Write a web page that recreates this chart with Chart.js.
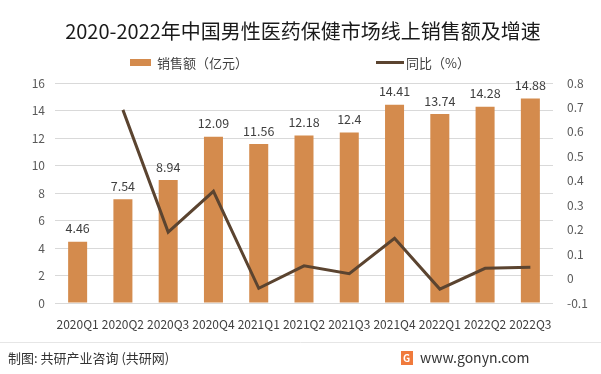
<!DOCTYPE html>
<html>
<head>
<meta charset="utf-8">
<script src="https://cdn.jsdelivr.net/npm/chart.js@4"></script>
<style>
  html, body { margin: 0; padding: 0; background: #fff; }
  canvas { display: block; }
</style>
</head>
<body>
<canvas id="myChart" width="601" height="374"></canvas>
<script>
const quarters = ['2020Q1', '2020Q2', '2020Q3', '2020Q4', '2021Q1', '2021Q2', '2021Q3', '2021Q4', '2022Q1', '2022Q2', '2022Q3'];
const sales = [4.46, 7.54, 8.94, 12.09, 11.56, 12.18, 12.4, 14.41, 13.74, 14.28, 14.88];
const growth = [null, 0.69, 0.19, 0.357, -0.04, 0.052, 0.02, 0.165, -0.043, 0.042, 0.046];

const font = '"Noto Sans CJK SC", "Noto Sans", sans-serif';
const barColor = '#D48B4D';
const lineColor = '#5B4430';

// title, legend, value labels and footer
const extras = {
  id: 'extras',
  beforeDraw(chart) {
    const c = chart.ctx;
    c.save();
    c.fillStyle = '#fff';
    c.fillRect(0, 0, chart.width, chart.height);
    c.restore();
  },
  afterDatasetsDraw(chart) {
    const c = chart.ctx;
    c.save();
    c.fillStyle = '#1a1a1a';
    c.font = '20px ' + font;
    c.textAlign = 'center';
    c.textBaseline = 'middle';
    c.fillText('2020-2022年中国男性医药保健市场线上销售额及增速', 303, 31);

    c.font = '13px ' + font;
    c.textAlign = 'left';
    c.fillStyle = barColor;
    c.fillRect(130, 59, 21, 7);
    c.fillStyle = '#404040';
    c.fillText('销售额（亿元）', 157, 63);
    c.strokeStyle = lineColor;
    c.lineWidth = 3;
    c.beginPath();
    c.moveTo(376, 62.5);
    c.lineTo(404, 62.5);
    c.stroke();
    c.fillText('同比（%）', 406, 63);

    // value labels over bars
    const meta = chart.getDatasetMeta(1);
    c.font = '12.5px ' + font;
    c.textAlign = 'center';
    c.textBaseline = 'bottom';
    c.fillStyle = '#404040';
    meta.data.forEach((bar, i) => {
      c.fillText(String(sales[i]), bar.x, bar.y - 7);
    });

    // footer
    c.strokeStyle = '#e6e6e6';
    c.lineWidth = 1;
    c.beginPath();
    c.moveTo(0, 342.5);
    c.lineTo(601, 342.5);
    c.stroke();
    c.textAlign = 'left';
    c.textBaseline = 'middle';
    c.fillStyle = '#333';
    c.font = '13px ' + font;
    c.fillText('制图: 共研产业咨询 (共研网)', 8, 358);
    c.fillStyle = '#F07A3C';
    c.fillRect(401, 351, 12, 14);
    c.fillStyle = '#fff';
    c.font = 'bold 10px ' + font;
    c.fillText('G', 403, 358);
    c.fillStyle = '#333';
    c.font = '14px ' + font;
    c.fillText('www.gonyn.com', 420, 358);
    c.restore();
  }
};

new Chart(document.getElementById('myChart'), {
  data: {
    labels: quarters,
    datasets: [
      {
        type: 'line',
        label: '同比（%）',
        data: growth,
        yAxisID: 'y1',
        borderColor: lineColor,
        borderWidth: 3,
        pointRadius: 0,
        tension: 0,
        order: 0
      },
      {
        type: 'bar',
        label: '销售额（亿元）',
        data: sales,
        yAxisID: 'y',
        backgroundColor: barColor,
        barPercentage: 0.84,
        categoryPercentage: 0.5,
        order: 1
      }
    ]
  },
  options: {
    responsive: false,
    animation: false,
    devicePixelRatio: 1,
    layout: { padding: { top: 83, bottom: 41, left: 0, right: 0 } },
    plugins: {
      legend: { display: false },
      tooltip: { enabled: false }
    },
    scales: {
      x: {
        grid: { display: false },
        border: { display: false },
        ticks: { color: '#404040', font: { size: 12, family: font }, maxRotation: 0, autoSkip: false, padding: 6 },
        afterFit(s) { s.height = 30; }
      },
      y: {
        position: 'left',
        min: 0,
        max: 16,
        ticks: { stepSize: 2, color: '#595959', font: { size: 12, family: font }, padding: 10 },
        grid: { color: '#d9d9d9', drawTicks: false },
        border: { display: false },
        afterFit(s) { s.width = 55; }
      },
      y1: {
        position: 'right',
        min: -0.1,
        max: 0.8,
        ticks: {
          stepSize: 0.1,
          color: '#595959',
          font: { size: 12, family: font },
          padding: 14,
          callback: v => String(Math.round(v * 10) / 10)
        },
        grid: { display: false, drawTicks: false },
        border: { display: false },
        afterFit(s) { s.width = 48; }
      }
    }
  },
  plugins: [extras]
});
</script>
</body>
</html>
